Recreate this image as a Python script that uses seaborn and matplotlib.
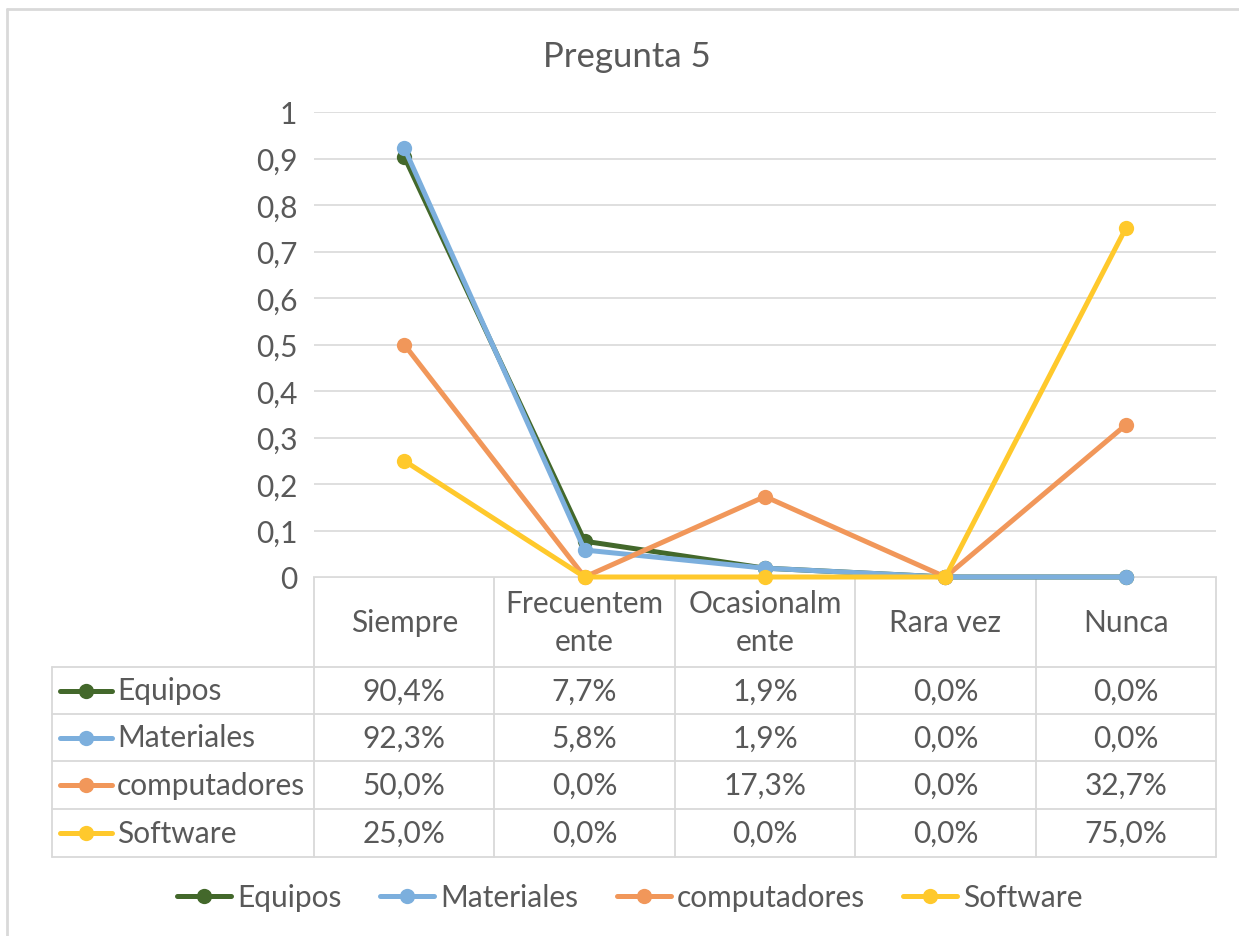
import pandas as pd
import matplotlib.pyplot as plt
import seaborn as sns
from matplotlib.lines import Line2D

categorias = ["Siempre", "Frecuentemente", "Ocasionalmente", "Rara vez", "Nunca"]
encabezados = ["Siempre", "Frecuentem\nente", "Ocasionalm\nente", "Rara vez", "Nunca"]
series = ["Equipos", "Materiales", "computadores", "Software"]
equipos = [0.904, 0.077, 0.019, 0.0, 0.0]
materiales = [0.923, 0.058, 0.019, 0.0, 0.0]
computadores = [0.500, 0.0, 0.173, 0.0, 0.327]
software = [0.250, 0.0, 0.0, 0.0, 0.750]
yticks = [0, 0.1, 0.2, 0.3, 0.4, 0.5, 0.6, 0.7, 0.8, 0.9, 1]
colores = ["#43682b", "#7cafdd", "#f1975a", "#ffc92c"]

valores = [equipos, materiales, computadores, software]
df = pd.DataFrame([
    {"serie": s, "pos": i, "valor": v}
    for s, vals in zip(series, valores)
    for i, v in enumerate(vals)
])

sns.set_style("white")
plt.rcParams["font.family"] = ["Lato", "DejaVu Sans"]
gris = "#595959"
borde = "#d9d9d9"
fs = 21.5
lw_serie = 3.6
ms = 11

W, H = 1239, 937
fig = plt.figure(figsize=(W / 100, H / 100), dpi=100)


def fx(x):
    return x / W


def fy(y):
    return 1 - y / H


left, right, top, bottom = 314, 1216, 113, 578
ax = fig.add_axes([fx(left), fy(bottom), fx(right - left), (bottom - top) / H])
sns.lineplot(data=df, x="pos", y="valor", hue="serie", hue_order=series,
             palette=colores, marker="o", markersize=ms, markeredgewidth=0,
             linewidth=lw_serie, legend=False, ax=ax, zorder=3)
for ln in ax.lines:
    ln.set_clip_on(False)
ax.set_xlim(-0.5, 4.5)
ax.set_ylim(0, 1)
ax.set_yticks(yticks)
ax.set_yticklabels([("%g" % t).replace(".", ",") for t in yticks],
                   fontsize=fs, color=gris)
ax.tick_params(axis="y", length=0, pad=12)
ax.set_xticks([])
ax.set_xlabel("")
ax.set_ylabel("")
ax.grid(axis="y", color=borde, linewidth=1.2)
ax.set_axisbelow(True)
for sp in ax.spines.values():
    sp.set_visible(False)

fig.text(fx(627), fy(57), "Pregunta 5", ha="center", va="center",
         fontsize=25, color=gris)

# data table
col_w = (right - left) / len(categorias)
cols = [left + col_w * i for i in range(len(categorias) + 1)]
rows = [668, 715, 762, 810, 858]
tleft = 52
lw = 1.3
fig.add_artist(Line2D([fx(left), fx(right)], [fy(bottom), fy(bottom)], color=borde, lw=lw, zorder=0))
for y in rows:
    fig.add_artist(Line2D([fx(tleft), fx(right)], [fy(y), fy(y)], color=borde, lw=lw, zorder=0))
fig.add_artist(Line2D([fx(tleft), fx(tleft)], [fy(rows[0]), fy(rows[-1])], color=borde, lw=lw, zorder=0))
for x in cols:
    fig.add_artist(Line2D([fx(x), fx(x)], [fy(bottom), fy(rows[-1])], color=borde, lw=lw, zorder=0))

for i, lab in enumerate(encabezados):
    fig.text(fx(cols[i] + col_w / 2), fy((bottom + rows[0]) / 2), lab,
             ha="center", va="center", fontsize=fs, color=gris, linespacing=1.45)

for r, (s, vals, c) in enumerate(zip(series, valores, colores)):
    yc = fy((rows[r] + rows[r + 1]) / 2)
    fig.add_artist(Line2D([fx(60), fx(112)], [yc, yc], color=c, lw=lw_serie))
    fig.add_artist(Line2D([fx(86)], [yc], color=c, marker="o", markersize=ms,
                          markeredgewidth=0, lw=0))
    fig.text(fx(117), yc, s, ha="left", va="center", fontsize=fs, color=gris)
    for i, v in enumerate(vals):
        fig.text(fx(cols[i] + col_w / 2), yc, ("%.1f%%" % (v * 100)).replace(".", ","),
                 ha="center", va="center", fontsize=fs, color=gris)

# legend
handles = [Line2D([], [], color=c, lw=lw_serie, marker="o", markersize=ms,
                  markeredgewidth=0) for c in colores]
fig.legend(handles, series, loc="center", bbox_to_anchor=(fx(630), fy(898)),
           ncol=4, frameon=False, fontsize=fs, handlelength=1.8,
           handletextpad=0.2, columnspacing=1.3, labelcolor=gris)

# outer chart border (top and left visible)
fig.add_artist(Line2D([fx(7), fx(W)], [fy(10), fy(10)], color=borde, lw=2))
fig.add_artist(Line2D([fx(7), fx(7)], [fy(10), fy(H)], color=borde, lw=2))

fig.savefig("out.png", dpi=100)
